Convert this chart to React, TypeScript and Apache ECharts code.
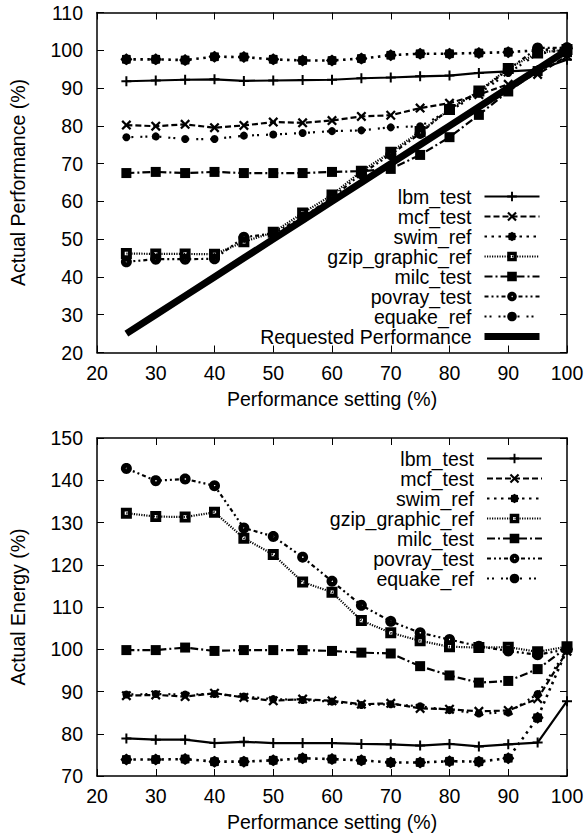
import React, { useEffect, useRef } from "react";
import * as echarts from "echarts";

// ---------------- data ----------------
const settings = [25, 30, 35, 40, 45, 50, 55, 60, 65, 70, 75, 80, 85, 90, 95, 100];
const seriesNames = ["lbm_test", "mcf_test", "swim_ref", "gzip_graphic_ref", "milc_test", "povray_test", "equake_ref"];
const requestedName = "Requested Performance";

const xTicks = { min: 20, max: 100, interval: 10 };
const perfTicks = { min: 20, max: 110, interval: 10 };
const energyTicks = { min: 70, max: 150, interval: 10 };

// Actual Performance (%)
const perfLbm = [91.8, 92.0, 92.2, 92.3, 91.9, 92.0, 92.1, 92.2, 92.6, 92.8, 93.1, 93.3, 94.0, 94.4, 94.8, 97.5];
const perfMcf = [80.2, 79.9, 80.4, 79.5, 80.1, 81.0, 80.8, 81.4, 82.5, 82.8, 84.7, 86.0, 88.3, 91.0, 93.6, 98.5];
const perfSwim = [97.6, 97.6, 97.4, 98.3, 98.2, 97.6, 97.3, 97.3, 97.8, 98.7, 99.1, 99.1, 99.3, 99.5, 100.0, 100.5];
const perfGzip = [46.2, 46.1, 46.1, 46.0, 49.3, 51.8, 56.9, 61.7, 68.0, 73.0, 78.5, 84.3, 89.2, 95.2, 99.3, 100.2];
const perfMilc = [67.5, 67.8, 67.5, 67.8, 67.5, 67.5, 67.5, 67.8, 68.0, 68.6, 72.3, 77.0, 82.9, 89.1, 94.5, 99.5];
const perfPovray = [44.0, 44.7, 44.7, 44.8, 50.5, 51.5, 55.8, 61.0, 67.3, 72.4, 78.0, 84.6, 89.0, 94.9, 100.6, 100.7];
const perfEquake = [77.0, 77.2, 76.5, 76.5, 77.4, 77.7, 78.1, 78.6, 78.8, 79.6, 79.9, 84.0, 88.5, 94.0, 99.0, 100.2];
const perfRequested = [25, 30, 35, 40, 45, 50, 55, 60, 65, 70, 75, 80, 85, 90, 95, 100];

// Actual Energy (%)
const energyLbm = [78.9, 78.6, 78.6, 77.8, 78.1, 77.8, 77.8, 77.8, 77.6, 77.5, 77.2, 77.6, 77.0, 77.5, 77.9, 87.7];
const energyMcf = [89.0, 89.2, 88.8, 89.6, 88.6, 87.8, 88.2, 87.8, 87.0, 87.2, 86.0, 85.8, 85.3, 85.5, 88.3, 99.5];
const energySwim = [73.9, 73.9, 74.0, 73.4, 73.4, 73.7, 74.2, 74.0, 73.7, 73.2, 73.2, 73.5, 73.4, 74.2, 83.8, 100.0];
const energyGzip = [132.2, 131.4, 131.3, 132.4, 126.3, 122.4, 115.9, 113.5, 106.8, 103.9, 102.0, 100.6, 100.4, 100.5, 99.4, 100.6];
const energyMilc = [99.8, 99.8, 100.4, 99.6, 99.8, 99.8, 99.8, 99.6, 99.2, 99.0, 96.0, 93.8, 92.1, 92.5, 95.3, 100.4];
const energyPovray = [142.8, 139.9, 140.3, 138.7, 128.7, 126.7, 121.8, 116.1, 110.4, 106.6, 103.9, 102.3, 100.7, 99.6, 98.7, 100.0];
const energyEquake = [89.3, 89.4, 89.3, 89.4, 88.8, 88.2, 88.0, 87.6, 86.8, 87.0, 86.5, 85.6, 84.8, 85.0, 89.4, 99.8];

const perfData = [perfLbm, perfMcf, perfSwim, perfGzip, perfMilc, perfPovray, perfEquake];
const energyData = [energyLbm, energyMcf, energySwim, energyGzip, energyMilc, energyPovray, energyEquake];

// ---------------- styles ----------------
const FONT = "Liberation Sans, Arial, sans-serif";
const FS = 19.5;

function polyPath(cx: number, cy: number, r: number, n: number, ccw: boolean) {
  const pts: string[] = [];
  for (let k = 0; k < n; k++) {
    const a = ((ccw ? -1 : 1) * 2 * Math.PI * k) / n;
    pts.push(`${(cx + r * Math.cos(a)).toFixed(3)},${(cy + r * Math.sin(a)).toFixed(3)}`);
  }
  return "M" + pts.join("L") + "Z";
}

function starPath(rOut: number, rIn: number) {
  const pts: string[] = [];
  for (let k = 0; k < 16; k++) {
    const r = k % 2 === 0 ? rOut : rIn;
    const a = (Math.PI * 2 * k) / 16;
    pts.push(`${(5 + r * Math.cos(a)).toFixed(3)},${(5 + r * Math.sin(a)).toFixed(3)}`);
  }
  return "M" + pts.join("L") + "Z";
}

const PLUS = "path://M4,0H6V4H10V6H6V10H4V6H0V4H4Z";
const CROSS = "path://M1.6,0L5,3.4L8.4,0L10,1.6L6.6,5L10,8.4L8.4,10L5,6.6L1.6,10L0,8.4L3.4,5L0,1.6Z";
const STAR = "path://" + starPath(5, 4.1);
const BOX = "path://M0,0H10V10H0Z M3.5,3.5V6.5H6.5V3.5Z";
const RINGDOT = "path://" + polyPath(5, 5, 5, 28, false) + " " + polyPath(5.2, 5, 0.75, 10, true);

const styles: any[] = [
  { symbol: PLUS, size: 10, width: 2.2, type: "solid" },
  { symbol: CROSS, size: 10, width: 2.2, type: [6, 3] },
  { symbol: STAR, size: 12, width: 2.6, type: [2.5, 4.5] },
  { symbol: BOX, size: 11, width: 2.2, type: [1.2, 1.3] },
  { symbol: "rect", size: 10, width: 2.2, type: [8, 3, 2, 3] },
  { symbol: RINGDOT, size: 11, width: 2.2, type: [4, 3, 2, 3, 2, 3] },
  { symbol: "circle", size: 8, width: 2.2, type: [2, 3, 2, 7] },
];

function mkSeries(name: string, values: number[], idx: number, st: any) {
  return {
    type: "line",
    name,
    xAxisIndex: idx,
    yAxisIndex: idx,
    data: settings.map((x, i) => [x, values[i]]),
    symbol: st.symbol,
    symbolSize: st.size,
    showAllSymbol: true,
    lineStyle: { color: "#000", width: st.width, type: st.type },
    itemStyle: { color: "#000", borderWidth: 0 },
    emphasis: { disabled: true },
    silent: true,
  };
}

function xAxis(gridIndex: number, position: "bottom" | "top", labels: boolean) {
  return {
    type: "value",
    gridIndex,
    position,
    ...xTicks,
    name: labels ? "Performance setting (%)" : "",
    nameLocation: "middle",
    nameGap: 36,
    nameTextStyle: { fontFamily: FONT, fontSize: FS, color: "#000" },
    axisLine: { show: true, onZero: false, lineStyle: { color: "#000", width: 1.5 } },
    axisTick: { show: true, inside: true, length: 7, lineStyle: { color: "#000", width: 1 } },
    axisLabel: { show: labels, margin: 10, fontFamily: FONT, fontSize: FS, color: "#000" },
    splitLine: { show: false },
  };
}

function yAxis(gridIndex: number, position: "left" | "right", ticks: any, name: string) {
  return {
    type: "value",
    gridIndex,
    position,
    ...ticks,
    name,
    nameLocation: "middle",
    nameGap: 69,
    nameTextStyle: { fontFamily: FONT, fontSize: FS, color: "#000" },
    axisLine: { show: true, onZero: false, lineStyle: { color: "#000", width: 1.5 } },
    axisTick: { show: true, inside: true, length: 7, lineStyle: { color: "#000", width: 1 } },
    axisLabel: { show: name !== "", margin: 14, fontFamily: FONT, fontSize: FS, color: "#000" },
    splitLine: { show: false },
  };
}

function legend(names: any[], top: number, rowHeight: number) {
  return {
    data: names,
    orient: "vertical",
    align: "right",
    right: 44,
    top,
    padding: 0,
    itemGap: 0,
    itemWidth: 55,
    itemHeight: 12,
    selectedMode: false,
    textStyle: { fontFamily: FONT, fontSize: FS, color: "#000", lineHeight: rowHeight, padding: [0, 8, 0, 0] },
  };
}

export default function App() {
  const ref = useRef<HTMLDivElement>(null);
  useEffect(() => {
    if (!ref.current) return;
    const chart = echarts.init(ref.current, undefined, { renderer: "svg" });
    const series: any[] = [];
    seriesNames.forEach((n, i) => series.push(mkSeries(n, perfData[i], 0, styles[i])));
    series.push(mkSeries(requestedName, perfRequested, 0, { symbol: "none", size: 0, width: 7, type: "solid" }));
    seriesNames.forEach((n, i) => series.push(mkSeries(n, energyData[i], 1, styles[i])));
    const requestedLegendItem = {
      name: requestedName,
      lineStyle: { width: 7, color: "#000" },
      itemStyle: { opacity: 0 },
    };
    chart.setOption({
      animation: false,
      backgroundColor: "#fff",
      grid: [
        { left: 97, top: 12.5, width: 470, height: 340 },
        { left: 97, top: 438, width: 470, height: 338 },
      ],
      xAxis: [xAxis(0, "bottom", true), xAxis(1, "bottom", true), xAxis(0, "top", false), xAxis(1, "top", false)],
      yAxis: [
        yAxis(0, "left", perfTicks, "Actual Performance (%)"),
        yAxis(1, "left", energyTicks, "Actual Energy (%)"),
        yAxis(0, "right", perfTicks, ""),
        yAxis(1, "right", energyTicks, ""),
      ],
      legend: [legend([...seriesNames, requestedLegendItem], 186.5, 19.4), legend(seriesNames, 448.5, 19.1)],
      series,
    });
    return () => chart.dispose();
  }, []);
  return <div ref={ref} style={{ position: "absolute", left: 0, top: 0, width: 587, height: 839 }} />;
}
